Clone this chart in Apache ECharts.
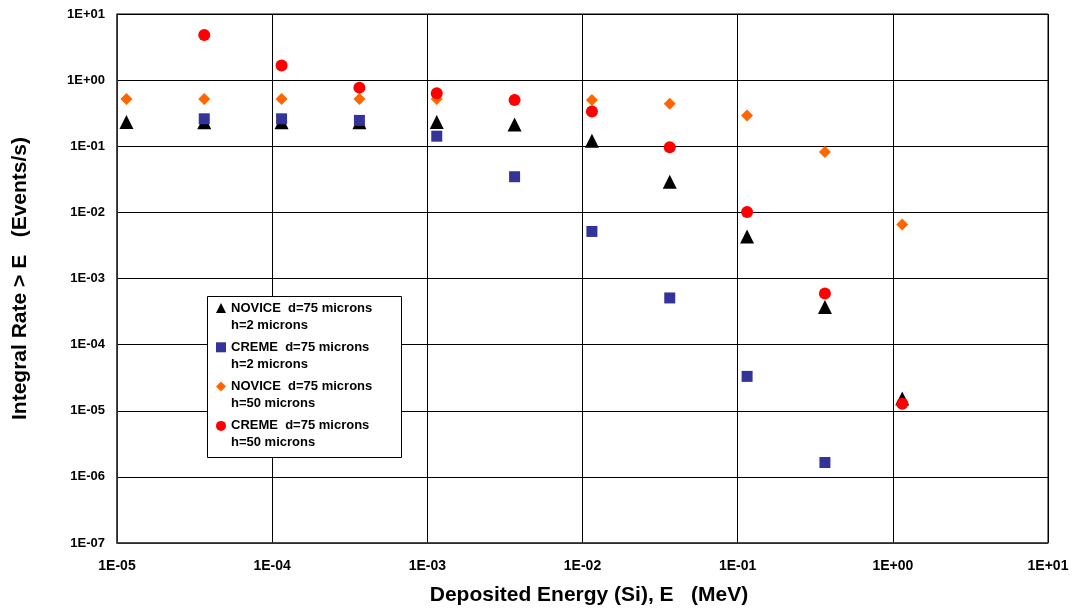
<!DOCTYPE html>
<html>
<head>
<meta charset="utf-8">
<script src="https://cdn.jsdelivr.net/npm/echarts@6/dist/echarts.min.js"></script>
<style>
  html, body { margin: 0; padding: 0; background: #fff; }
  #chart { width: 1076px; height: 612px; }
</style>
</head>
<body>
<div id="chart"></div>
<script>
// Deposited energy (MeV) at which each integral rate is evaluated
const energies = [1.15e-5, 3.65e-5, 1.15e-4, 3.65e-4, 1.15e-3, 3.65e-3, 1.15e-2, 3.65e-2, 1.15e-1, 3.65e-1, 1.15];

// Integral rate > E (events/s); null where a model has no value
const noviceH2  = [0.233, 0.23, 0.23, 0.23, 0.233, 0.214, 0.121, 0.0291, 0.00433, 3.71e-4, 1.53e-5];
const cremeH2   = [null, 0.26, 0.26, 0.246, 0.142, 0.0346, 0.00515, 5.08e-4, 3.31e-5, 1.65e-6, null];
const noviceH50 = [0.52, 0.52, 0.52, 0.52, 0.52, 0.51, 0.50, 0.44, 0.291, 0.082, 0.00658];
const cremeH50  = [null, 4.8, 1.66, 0.77, 0.635, 0.50, 0.334, 0.0966, 0.0101, 5.93e-4, 1.28e-5];

const seriesNames = [
  'NOVICE  d=75 microns\nh=2 microns',
  'CREME  d=75 microns\nh=2 microns',
  'NOVICE  d=75 microns\nh=50 microns',
  'CREME  d=75 microns\nh=50 microns'
];

const FONT = '"Liberation Sans", Arial, sans-serif';

function pairs(values) {
  const out = [];
  values.forEach((v, i) => { if (v != null) out.push([energies[i], v]); });
  return out;
}

// Labels like 1E-05, 1E+00
function expLabel(v) {
  const e = Math.round(Math.log10(v));
  const a = Math.abs(e);
  return '1E' + (e < 0 ? '-' : '+') + (a < 10 ? '0' + a : a);
}

const chart = echarts.init(document.getElementById('chart'), null, { renderer: 'canvas' });

const axisCommon = {
  type: 'log',
  logBase: 10,
  axisLine: { show: true, lineStyle: { color: '#3a3a3a', width: 1.5 } },
  axisTick: { show: false },
  splitLine: { show: true, lineStyle: { color: '#000', width: 1 } },
  minorTick: { show: false },
  minorSplitLine: { show: false },
  axisLabel: {
    color: '#000', fontFamily: FONT, fontWeight: 'bold', fontSize: 13,
    formatter: expLabel
  },
  nameLocation: 'middle',
  nameTextStyle: { color: '#000', fontFamily: FONT, fontWeight: 'bold', fontSize: 21 }
};

const option = {
  backgroundColor: '#fff',
  animation: false,
  grid: { left: 117, right: 28, top: 14, bottom: 69, show: true, borderColor: '#000', borderWidth: 1 },
  xAxis: Object.assign({}, axisCommon, {
    min: 1e-5, max: 10, splitNumber: 6,
    name: 'Deposited Energy (Si), E   (MeV)',
    nameGap: 42,
    nameTextStyle: Object.assign({}, axisCommon.nameTextStyle, { padding: [0, 0, 0, 13] }),
    axisLabel: Object.assign({}, axisCommon.axisLabel, { margin: 16, fontSize: 14 })
  }),
  yAxis: Object.assign({}, axisCommon, {
    min: 1e-7, max: 10, splitNumber: 8,
    name: 'Integral Rate > E   (Events/s)',
    nameGap: 86,
    axisLabel: Object.assign({}, axisCommon.axisLabel, { margin: 12 })
  }),
  graphic: [{
    type: 'rect',
    z: 3,
    shape: { x: 207.5, y: 296.5, width: 194, height: 161 },
    style: { fill: '#fff', stroke: '#000', lineWidth: 1 }
  }],
  legend: {
    z: 5,
    orient: 'vertical',
    left: 216,
    top: 282.5,
    padding: 0,
    itemGap: -11.7,
    itemWidth: 10,
    itemHeight: 10,
    data: seriesNames,
    // a leading blank line keeps each marker level with the first line of its label
    formatter: name => '\n' + name,
    textStyle: {
      color: '#000', fontFamily: FONT, fontWeight: 'bold', fontSize: 13,
      lineHeight: 17
    }
  },
  series: [
    {
      name: seriesNames[0], type: 'scatter', symbol: 'triangle', symbolSize: 14,
      itemStyle: { color: '#000000', opacity: 1 }, data: pairs(noviceH2), z: 2
    },
    {
      name: seriesNames[1], type: 'scatter', symbol: 'rect', symbolSize: 11,
      itemStyle: { color: '#333399', opacity: 1 }, data: pairs(cremeH2), z: 3
    },
    {
      name: seriesNames[2], type: 'scatter', symbol: 'diamond', symbolSize: [12, 12],
      itemStyle: { color: '#FF6600', opacity: 1 }, data: pairs(noviceH50), z: 4
    },
    {
      name: seriesNames[3], type: 'scatter', symbol: 'circle', symbolSize: 12,
      itemStyle: { color: '#FF0000', opacity: 1 }, data: pairs(cremeH50), z: 5
    }
  ]
};

chart.setOption(option);
</script>
</body>
</html>
